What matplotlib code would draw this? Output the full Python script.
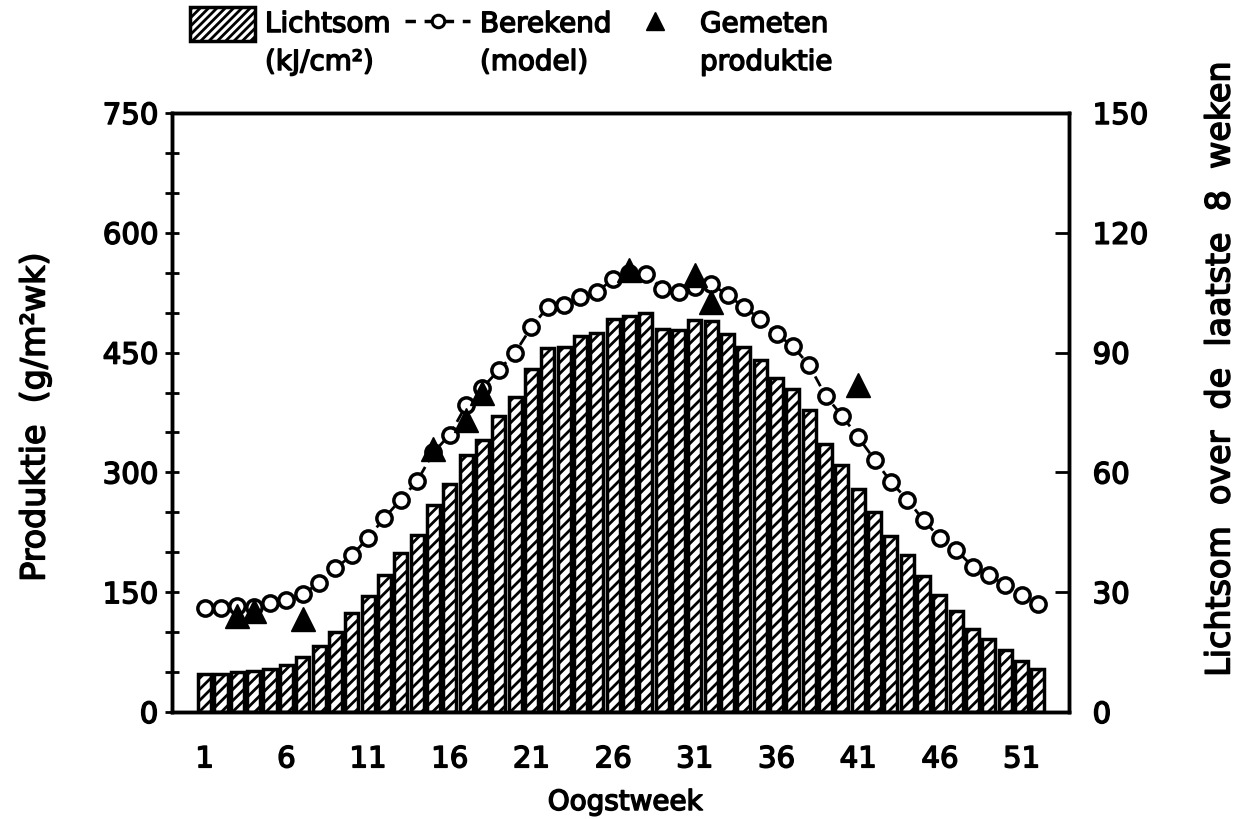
import numpy as np
import matplotlib
matplotlib.use("Agg")
import matplotlib.pyplot as plt
import matplotlib.patheffects as pe
from matplotlib.patches import Rectangle
from matplotlib.lines import Line2D

# Oogstweken 1..52
weeks = np.arange(1, 53)

# Lichtsom over de laatste 8 weken (kJ/cm2), rechter as
lichtsom = [9.6, 9.6, 10.0, 10.3, 10.8, 11.8, 13.8, 16.6, 20.1, 24.7,
            29.0, 34.2, 39.8, 44.3, 51.9, 57.1, 64.4, 68.2, 74.1, 78.8,
            85.8, 91.2, 91.5, 94.1, 94.9, 98.4, 99.2, 99.9, 95.9, 95.6,
            98.2, 97.9, 94.6, 91.4, 88.1, 83.7, 80.8, 75.5, 67.2, 61.9,
            55.9, 50.1, 44.0, 39.3, 34.0, 29.2, 25.2, 20.9, 18.4, 15.4,
            12.8, 10.8]

# Berekende produktie (model), g/m2 per week, linker as
berekend = [130, 130, 133, 132, 136, 140, 148, 161, 180, 196,
            218, 243, 266, 289, 325, 347, 384, 406, 428, 450,
            482, 507, 510, 520, 526, 542, 550, 549, 530, 526,
            532, 536, 522, 507, 492, 473, 458, 434, 396, 371,
            344, 316, 288, 266, 240, 218, 203, 182, 171, 159,
            146, 135]

# Gemeten produktie
gemeten_weken = [3, 4, 7, 15, 17, 18, 27, 31, 32, 41]
gemeten = [120, 126, 116, 329, 365, 399, 553, 547, 513, 409]

x_ticks = [1, 6, 11, 16, 21, 26, 31, 36, 41, 46, 51]
left_ticks = [0, 150, 300, 450, 600, 750]
left_minor = [50, 100, 200, 250, 350, 400, 500, 550, 650, 700]
right_ticks = [0, 30, 60, 90, 120, 150]

plt.rcParams["font.family"] = ["DejaVu Sans"]
plt.rcParams["hatch.linewidth"] = 2.0

FS = 20       # legend and x-label text
FS_TICK = 21  # tick labels
FS_SIDE = 24  # rotated axis titles
# slightly heavier strokes for all text
THICK = [pe.withStroke(linewidth=1.1, foreground="black")]

fig = plt.figure(figsize=(12.5, 8.2), dpi=100)
ax = fig.add_axes([0.1376, 0.1305, 0.7176, 0.7305])
ax2 = ax.twinx()
ax.set_zorder(ax2.get_zorder() + 1)
ax.patch.set_visible(False)

# Staven: lichtsom
ax2.bar(weeks, lichtsom, width=0.80, color="white", edgecolor="black",
        linewidth=2.5, hatch="///")

# Model en metingen
ax.plot(weeks, berekend, linestyle=(0, (4, 2)), color="black", lw=2,
        marker="o", ms=11, mfc="white", mec="black", mew=2.5, zorder=3)
ax.plot(gemeten_weken, gemeten, linestyle="none", marker="^", ms=17,
        color="black", zorder=4)

ax.set_xlim(-1.0, 53.9)
ax.set_ylim(0, 750)
ax2.set_ylim(0, 150)

ax.set_xticks(x_ticks)
ax.set_xticklabels([str(t) for t in x_ticks])
ax.tick_params(axis="x", length=0, labelsize=FS_TICK, pad=24)

ax.set_yticks(left_ticks)
ax.set_yticks(left_minor, minor=True)
ax.tick_params(axis="y", which="both", direction="inout", length=10,
               width=2, labelsize=FS_TICK, pad=5, right=False)

ax2.set_yticks(right_ticks)
ax2.tick_params(axis="y", direction="in", length=10, width=2,
                labelsize=FS_TICK, pad=17)

for a in (ax, ax2):
    for s in a.spines.values():
        s.set_linewidth(2.5)
    for lab in a.get_xticklabels() + a.get_yticklabels():
        lab.set_path_effects(THICK)


def label(x, y, s, size=FS, **kw):
    fig.text(x / 1250, 1 - y / 820, s, fontsize=size, path_effects=THICK, **kw)


# As-titels
label(625, 803, "Oogstweek", ha="center", va="center")
label(35, 418, "Produktie  (g/m²wk)", size=FS_SIDE, rotation=90,
      ha="center", va="center")
label(1220, 370, "Lichtsom  over  de  laatste  8  weken", size=FS_SIDE,
      rotation=90, ha="center", va="center")

# Legenda boven de grafiek
fig.patches.append(Rectangle((190 / 1250, 1 - 42 / 820), 65 / 1250, 34 / 820,
                             transform=fig.transFigure, facecolor="white",
                             edgecolor="black", linewidth=2.5, hatch="////"))
label(265, 25, "Lichtsom", ha="left", va="center")
label(265, 63, "(kJ/cm²)", ha="left", va="center")

fig.lines.append(Line2D([405 / 1250, 470 / 1250], [1 - 22 / 820] * 2,
                        transform=fig.transFigure, color="black", lw=2.5,
                        linestyle=(0, (3, 2.5))))
fig.lines.append(Line2D([437.5 / 1250], [1 - 22 / 820],
                        transform=fig.transFigure, linestyle="none",
                        marker="o", ms=9, mfc="white", mec="black", mew=2.2))
label(480, 25, "Berekend", ha="left", va="center")
label(480, 63, "(model)", ha="left", va="center")

fig.lines.append(Line2D([655 / 1250], [1 - 22 / 820],
                        transform=fig.transFigure, linestyle="none",
                        marker="^", ms=13, color="black"))
label(700, 25, "Gemeten", ha="left", va="center")
label(700, 63, "produktie", ha="left", va="center")

fig.savefig("out.png", dpi=100, facecolor="white")
